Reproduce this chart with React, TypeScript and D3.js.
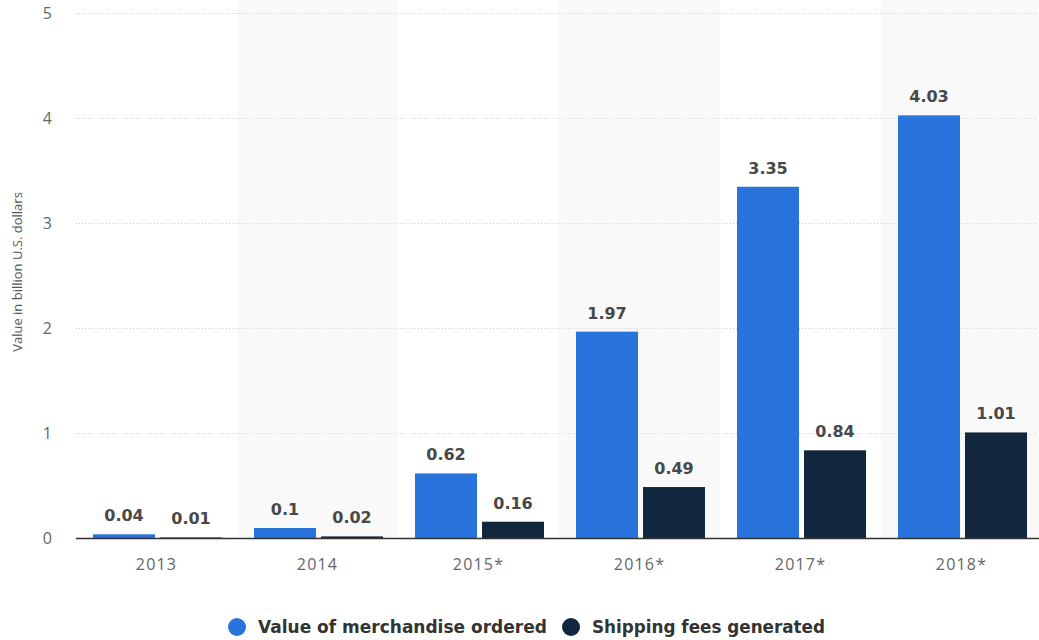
import React from "react";
import * as d3 from "d3";

const years = ["2013", "2014", "2015*", "2016*", "2017*", "2018*"];
const merchandise = [0.04, 0.1, 0.62, 1.97, 3.35, 4.03];
const shipping = [0.01, 0.02, 0.16, 0.49, 0.84, 1.01];
const seriesNames = ["Value of merchandise ordered", "Shipping fees generated"];
const seriesColors = ["#2874dc", "#10273d"];
const yTicks = [0, 1, 2, 3, 4, 5];

export default function App() {
  const W = 1039, H = 640;
  const x = d3.scaleBand<string>().domain(years).range([76, 1042]).padding(0);
  const y = d3.scaleLinear().domain([0, 5]).range([538.5, 13.5]);
  const x1 = d3.scaleBand<string>().domain(["m", "s"]).range([17, 146]).paddingInner(0.075);
  const series = [merchandise, shipping];
  const keys = ["m", "s"];
  const font = "'DejaVu Sans', Verdana, sans-serif";
  const legendSizes = [17, 16.8];
  return (
    <svg width={W} height={H} style={{ position: "absolute", left: 0, top: 0, background: "#fff" }}>
      {years.map((yr, i) =>
        i % 2 === 1 ? (
          <rect key={"band" + yr} x={x(yr)} y={0} width={x.bandwidth()} height={y(0) - 0} fill="#f9f9f9" />
        ) : null
      )}
      {yTicks.filter((t) => t > 0).map((t) => (
        <line key={"g" + t} x1={76} x2={1042} y1={y(t)} y2={y(t)} stroke="#cfcfcf" strokeDasharray="1,2" strokeWidth={1} />
      ))}
      {yTicks.map((t) => (
        <text key={"yt" + t} x={52} y={y(t)} dy="0.35em" textAnchor="end" fontFamily="'Open Sans', sans-serif" fontSize={16} fill="#666">
          {t}
        </text>
      ))}
      <text transform={`translate(22,${272}) rotate(-90)`} textAnchor="middle" fontFamily="'Open Sans', sans-serif" fontSize={13} fill="#555">
        Value in billion U.S. dollars
      </text>
      {years.map((yr, i) =>
        series.map((s, j) => {
          const bx = (x(yr) as number) + (x1(keys[j]) as number);
          const by = y(s[i]);
          return (
            <g key={yr + j}>
              <rect x={bx} y={by} width={x1.bandwidth()} height={y(0) - by} fill={seriesColors[j]} />
              <text x={bx + x1.bandwidth() / 2} y={by - 13} textAnchor="middle" fontFamily={font} fontWeight="bold" fontSize={16} fill="#484848">
                {s[i]}
              </text>
            </g>
          );
        })
      )}
      <line x1={76} x2={1042} y1={y(0)} y2={y(0)} stroke="#333" strokeWidth={1.5} />
      {years.map((yr) => (
        <text key={"xt" + yr} x={(x(yr) as number) + x.bandwidth() / 2} y={570} textAnchor="middle" fontFamily="'Open Sans', sans-serif" fontSize={16} letterSpacing={1.2} fill="#666">
          {yr}
        </text>
      ))}
      {seriesNames.map((n, j) => {
        const cx = j === 0 ? 237 : 571;
        return (
          <g key={n}>
            <circle cx={cx} cy={627} r={9} fill={seriesColors[j]} />
            <text x={cx + 21} y={627} dy="0.35em" fontFamily={font} fontWeight="bold" fontSize={legendSizes[j]} fill="#333">
              {n}
            </text>
          </g>
        );
      })}
    </svg>
  );
}
